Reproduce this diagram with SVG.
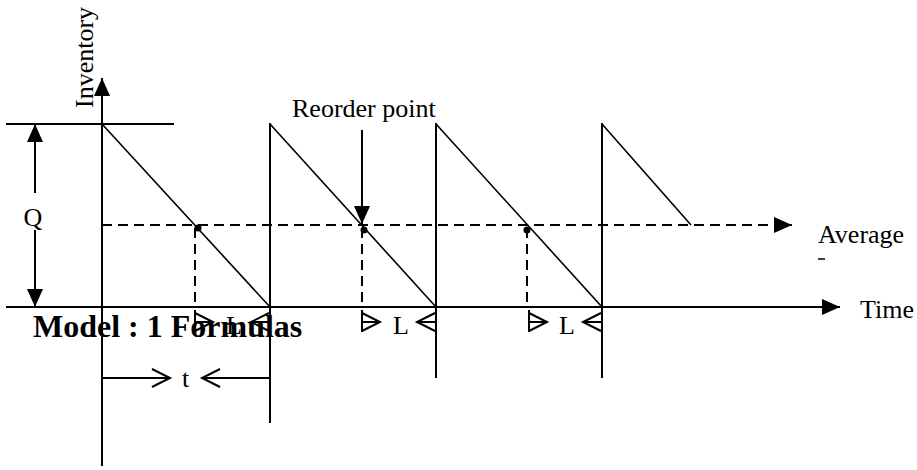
<svg xmlns="http://www.w3.org/2000/svg" width="917" height="470" viewBox="0 0 917 470">
<style>
.ax{stroke:#000;stroke-width:2;fill:none}
.saw{stroke:#000;stroke-width:1.6;fill:none}
.dash{stroke:#000;stroke-width:2;fill:none;stroke-dasharray:10 6}
.thin{stroke:#000;stroke-width:2;fill:none}
text{font-family:"Liberation Serif","Times New Roman",serif;font-size:26px;fill:#000}
.bold{font-weight:bold;font-size:32px}
</style>
<defs>
<marker id="fa" viewBox="0 0 18 16" refX="18" refY="8" markerWidth="18" markerHeight="16" markerUnits="userSpaceOnUse" orient="auto"><path d="M0,0 L18,8 L0,16 z" fill="#000"/></marker>
<marker id="oa" viewBox="-2 -2 22 22" refX="18" refY="9" markerWidth="22" markerHeight="22" markerUnits="userSpaceOnUse" orient="auto" overflow="visible"><path d="M0,0 L18,9 L0,18" fill="none" stroke="#000" stroke-width="2"/></marker>
</defs>
<rect width="917" height="470" fill="#fff"/>
<g id="connectors">
<line class="ax" x1="6" y1="307" x2="840" y2="307" marker-end="url(#fa)"/>
<line class="ax" x1="102" y1="466" x2="102" y2="78" marker-end="url(#fa)"/>
<line class="ax" x1="6" y1="124" x2="174" y2="124"/>
<line class="ax" x1="35" y1="193" x2="35" y2="124" marker-end="url(#fa)"/>
<line class="ax" x1="35" y1="230" x2="35" y2="307" marker-end="url(#fa)"/>
<line class="dash" x1="102" y1="225" x2="792" y2="225" marker-end="url(#fa)"/>
<line class="ax" x1="362" y1="130" x2="362" y2="224" marker-end="url(#fa)"/>
</g>
<g id="sawtooth">
<polyline class="saw" points="102,124 270,307"/>
<line class="ax" x1="270" y1="123" x2="270" y2="423"/>
<polyline class="saw" points="270,124 436,307"/>
<line class="ax" x1="436" y1="123" x2="436" y2="378"/>
<polyline class="saw" points="436,124 602,307"/>
<line class="ax" x1="602" y1="123" x2="602" y2="378"/>
<polyline class="saw" points="602,124 691,225"/>
</g>
<g id="reorder-marks">
<line class="dash" x1="195" y1="228" x2="195" y2="307"/>
<line class="dash" x1="362" y1="228" x2="362" y2="307"/>
<line class="dash" x1="527" y1="228" x2="527" y2="307"/>
<circle cx="198" cy="228" r="3.5" fill="#000"/>
<circle cx="364" cy="230" r="3.5" fill="#000"/>
<circle cx="527" cy="230" r="3.5" fill="#000"/>
</g>
<g id="lead-time-1">
<line class="thin" x1="195" y1="310" x2="195" y2="332"/>
<line class="thin" x1="195" y1="322" x2="213" y2="322" marker-end="url(#oa)"/>
<line class="thin" x1="270" y1="322" x2="251" y2="322" marker-end="url(#oa)"/>
<text x="226" y="334">L</text>
</g>
<g id="lead-time-2">
<line class="thin" x1="362" y1="310" x2="362" y2="332"/>
<line class="thin" x1="362" y1="322" x2="380" y2="322" marker-end="url(#oa)"/>
<line class="thin" x1="436" y1="322" x2="417" y2="322" marker-end="url(#oa)"/>
<text x="393" y="334">L</text>
</g>
<g id="lead-time-3">
<line class="thin" x1="529" y1="310" x2="529" y2="332"/>
<line class="thin" x1="529" y1="322" x2="547" y2="322" marker-end="url(#oa)"/>
<line class="thin" x1="602" y1="322" x2="583" y2="322" marker-end="url(#oa)"/>
<text x="559" y="334">L</text>
</g>
<g id="cycle-time">
<line class="thin" x1="102" y1="378" x2="170" y2="378" marker-end="url(#oa)"/>
<line class="thin" x1="270" y1="378" x2="202" y2="378" marker-end="url(#oa)"/>
<text x="182" y="387">t</text>
</g>
<g id="labels">
<text transform="translate(93,108) rotate(-90)">Inventory</text>
<text x="33" y="226" text-anchor="middle">Q</text>
<text x="292" y="117">Reorder point</text>
<text x="818" y="243">Average</text>
<line x1="818" y1="259" x2="825" y2="259" stroke="#000" stroke-width="1.5"/>
<text x="860" y="318">Time</text>
<text class="bold" x="33" y="337">Model : 1 Formulas</text>
</g>
</svg>
